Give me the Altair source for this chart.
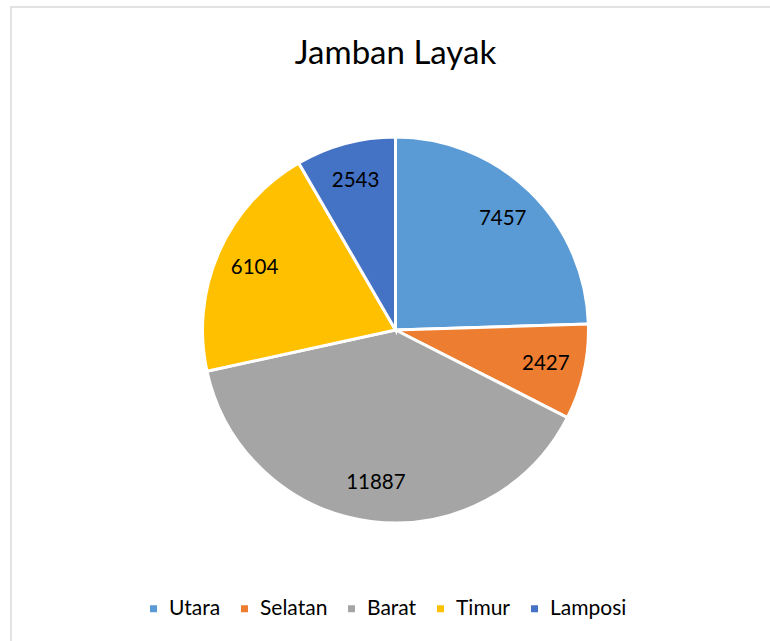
import altair as alt
import pandas as pd

categories = ["Utara", "Selatan", "Barat", "Timur", "Lamposi"]
values = [7457, 2427, 11887, 6104, 2543]
colors = ["#5B9BD5", "#ED7D31", "#A5A5A5", "#FFC000", "#4472C4"]
title_text = "Jamban Layak"

df = pd.DataFrame({"wilayah": categories, "jumlah": values, "urutan": list(range(len(categories)))})

CX, CY, R = 395.5, 330, 193

border = alt.Chart(pd.DataFrame({"k": [0]})).mark_rect(
    fillOpacity=0, stroke="#D9D9D9", strokeWidth=1.5
).encode(x=alt.value(11), x2=alt.value(800), y=alt.value(7), y2=alt.value(700))

title = alt.Chart(pd.DataFrame({"k": [0]})).mark_text(
    font="Lato", fontSize=33, color="#000000", align="center", baseline="alphabetic"
).encode(x=alt.value(395.5), y=alt.value(64), text=alt.value(title_text))

base = alt.Chart(df).encode(
    theta=alt.Theta("jumlah:Q", stack=True),
    order=alt.Order("urutan:O"),
)

pie = base.mark_arc(outerRadius=R, stroke="white", strokeWidth=3).encode(
    x=alt.value(CX),
    y=alt.value(CY),
    color=alt.Color(
        "wilayah:N",
        scale=alt.Scale(domain=categories, range=colors),
        sort=categories,
        legend=alt.Legend(
            orient="none",
            legendX=143,
            legendY=598,
            direction="horizontal",
            title=None,
            symbolType="square",
            symbolSize=49,
            symbolStrokeWidth=0,
            labelFont="Lato",
            labelFontSize=21,
            labelColor="#000000",
            labelOffset=5,
            columnPadding=13,
        ),
    ),
)

labels = base.mark_text(radius=154, font="Lato", fontSize=20.5, color="#000000").encode(
    x=alt.value(CX),
    y=alt.value(CY),
    text=alt.Text("jumlah:Q", format="d"),
)

chart = alt.layer(border, title, pie, labels).properties(
    width=770,
    height=641,
    autosize=alt.AutoSizeParams(type="none"),
    padding=0,
).configure_view(stroke=None)

chart.save("out.html", embed_options={"renderer": "svg", "actions": False})
